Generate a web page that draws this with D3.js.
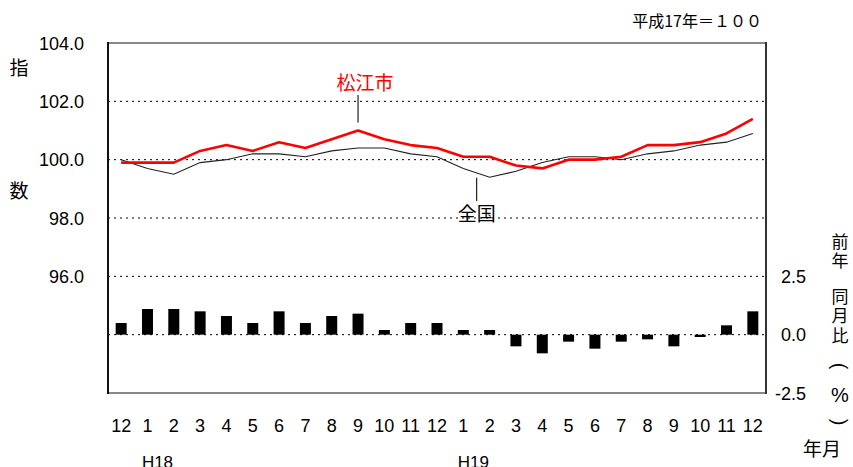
<!DOCTYPE html>
<html>
<head>
<meta charset="utf-8">
<script src="https://cdn.jsdelivr.net/npm/d3@7"></script>
<style>
  body { margin: 0; background: #fff; }
  text { font-family: "Liberation Sans", Arial, sans-serif; fill: #000; }
  .jp { font-family: "Noto Sans CJK JP", sans-serif; }
</style>
</head>
<body>
<div id="chart"></div>
<script>
// Chart data
var months = ["12", "1", "2", "3", "4", "5", "6", "7", "8", "9", "10", "11", "12",
              "1", "2", "3", "4", "5", "6", "7", "8", "9", "10", "11", "12"];
var matsue = [99.9, 99.9, 99.9, 100.3, 100.5, 100.3, 100.6, 100.4, 100.7, 101.0, 100.7, 100.5, 100.4,
              100.1, 100.1, 99.8, 99.7, 100.0, 100.0, 100.1, 100.5, 100.5, 100.6, 100.9, 101.4];
var zenkoku = [100.0, 99.7, 99.5, 99.9, 100.0, 100.2, 100.2, 100.1, 100.3, 100.4, 100.4, 100.2, 100.1,
               99.7, 99.4, 99.6, 99.9, 100.1, 100.1, 100.0, 100.2, 100.3, 100.5, 100.6, 100.9];
var yoy = [0.5, 1.1, 1.1, 1.0, 0.8, 0.5, 1.0, 0.5, 0.8, 0.9, 0.2, 0.5, 0.5,
           0.2, 0.2, -0.5, -0.8, -0.3, -0.6, -0.3, -0.2, -0.5, -0.1, 0.4, 1.0];
var leftTicks = [104, 102, 100, 98, 96];
var rightTicks = [2.5, 0, -2.5];
var eraLabels = [{ text: "H18", at: 1 }, { text: "H19", at: 13 }];

var svgWidth = 853;
var svgHeight = 467;

// Plot frame
var margin = { top: 43, right: 87, bottom: 74, left: 108 };
var chartWidth = svgWidth - margin.left - margin.right;
var chartHeight = svgHeight - margin.top - margin.bottom;

var svg = d3.select("#chart")
  .append("svg")
  .attr("width", svgWidth)
  .attr("height", svgHeight);

var chartGroup = svg.append("g")
  .attr("transform", `translate(${margin.left}, ${margin.top})`);

var idx = d3.range(months.length);

var xScale = d3.scaleBand()
  .domain(idx)
  .range([0, chartWidth]);

var yLeft = d3.scaleLinear()
  .domain([92, 104])
  .range([chartHeight, 0]);

var yRight = d3.scaleLinear()
  .domain([-2.5, 12.5])
  .range([chartHeight, 0]);

var cx = i => xScale(i) + xScale.bandwidth() / 2;

// Dotted grid lines
var gridYs = leftTicks.slice(1).map(v => yLeft(v)).concat([yRight(0)]);
chartGroup.selectAll(".grid")
  .data(gridYs)
  .enter()
  .append("line")
  .attr("x1", 0)
  .attr("x2", chartWidth)
  .attr("y1", d => d)
  .attr("y2", d => d)
  .attr("stroke", "#000")
  .attr("stroke-width", 1)
  .attr("stroke-dasharray", "2,4");

// Bars (year-on-year %)
chartGroup.selectAll(".bar")
  .data(yoy)
  .enter()
  .append("rect")
  .attr("x", (d, i) => cx(i) - 5.5)
  .attr("width", 11)
  .attr("y", d => yRight(Math.max(0, d)))
  .attr("height", d => Math.abs(yRight(d) - yRight(0)))
  .attr("fill", "#000");

// Lines
var line = d3.line()
  .x((d, i) => cx(i))
  .y(d => yLeft(d));

chartGroup.append("path")
  .datum(zenkoku)
  .attr("d", line)
  .attr("fill", "none")
  .attr("stroke", "#222")
  .attr("stroke-width", 1.1);

chartGroup.append("path")
  .datum(matsue)
  .attr("d", line)
  .attr("fill", "none")
  .attr("stroke", "#ff0000")
  .attr("stroke-width", 2.6)
  .attr("stroke-linejoin", "round");

// Frame
chartGroup.append("line").attr("x1", 0).attr("x2", chartWidth).attr("y1", 0).attr("y2", 0)
  .attr("stroke", "#888").attr("stroke-width", 2);
chartGroup.append("line").attr("x1", 0).attr("x2", chartWidth).attr("y1", chartHeight).attr("y2", chartHeight)
  .attr("stroke", "#888").attr("stroke-width", 2);
chartGroup.append("line").attr("x1", 0).attr("x2", 0).attr("y1", -1).attr("y2", chartHeight + 1)
  .attr("stroke", "#111").attr("stroke-width", 2);
chartGroup.append("line").attr("x1", chartWidth).attr("x2", chartWidth).attr("y1", -1).attr("y2", chartHeight + 1)
  .attr("stroke", "#333").attr("stroke-width", 2);

// Left axis labels
chartGroup.selectAll(".ltick")
  .data(leftTicks)
  .enter()
  .append("text")
  .attr("x", -24)
  .attr("y", d => yLeft(d) + 6.5)
  .attr("text-anchor", "end")
  .attr("font-size", 18)
  .text(d => d.toFixed(1));

// Right axis labels
chartGroup.selectAll(".rtick")
  .data(rightTicks)
  .enter()
  .append("text")
  .attr("x", chartWidth + 40)
  .attr("y", d => yRight(d) + 6.5)
  .attr("text-anchor", "end")
  .attr("font-size", 18)
  .text(d => d.toFixed(1));

// Month labels
chartGroup.selectAll(".month")
  .data(months)
  .enter()
  .append("text")
  .attr("x", (d, i) => cx(i))
  .attr("y", chartHeight + 39)
  .attr("text-anchor", "middle")
  .attr("font-size", 18)
  .text(d => d);

chartGroup.selectAll(".era")
  .data(eraLabels)
  .enter()
  .append("text")
  .attr("x", d => cx(d.at) + 10)
  .attr("y", chartHeight + 75)
  .attr("text-anchor", "middle")
  .attr("font-size", 17)
  .text(d => d.text);

// Series labels with leader lines
chartGroup.append("text")
  .attr("class", "jp")
  .attr("x", cx(9) + 7)
  .attr("y", 47)
  .attr("text-anchor", "middle")
  .attr("font-size", 19)
  .style("fill", "#ff0000")
  .text("松江市");
chartGroup.append("line")
  .attr("x1", cx(9)).attr("x2", cx(9))
  .attr("y1", 52).attr("y2", yLeft(101.0) - 8)
  .attr("stroke", "#222").attr("stroke-width", 1.2);

chartGroup.append("text")
  .attr("class", "jp")
  .attr("x", cx(14) - 13)
  .attr("y", 178)
  .attr("text-anchor", "middle")
  .attr("font-size", 19)
  .text("全国");
chartGroup.append("line")
  .attr("x1", cx(14) - 13).attr("x2", cx(14) - 13)
  .attr("y1", yLeft(99.45) + 2).attr("y2", 158)
  .attr("stroke", "#222").attr("stroke-width", 1.2);

// Axis titles
svg.append("text").attr("class", "jp").attr("x", 19).attr("y", 75)
  .attr("text-anchor", "middle").attr("font-size", 19).text("指");
svg.append("text").attr("class", "jp").attr("x", 19).attr("y", 198)
  .attr("text-anchor", "middle").attr("font-size", 19).text("数");

svg.append("text").attr("class", "jp").attr("x", 762).attr("y", 27)
  .attr("text-anchor", "end").attr("font-size", 16).text("平成17年＝１００");

// Vertical right-hand title
var vChars = [
  { t: "前", y: 248 }, { t: "年", y: 267 }, { t: "同", y: 303 },
  { t: "月", y: 322 }, { t: "比", y: 342 }
];
svg.selectAll(".vlab")
  .data(vChars)
  .enter()
  .append("text")
  .attr("class", "jp")
  .attr("x", 840)
  .attr("y", d => d.y)
  .attr("text-anchor", "middle")
  .attr("font-size", 17)
  .text(d => d.t);

// parentheses turned for vertical writing
var vParens = [{ t: "(", y: 366 }, { t: ")", y: 422 }];
svg.selectAll(".vparen")
  .data(vParens)
  .enter()
  .append("text")
  .attr("transform", d => `translate(840, ${d.y}) rotate(90)`)
  .attr("text-anchor", "middle")
  .attr("dy", "0.35em")
  .attr("font-size", 20)
  .text(d => d.t);

svg.append("text").attr("x", 840).attr("y", 402)
  .attr("text-anchor", "middle").attr("font-size", 20).text("%");

svg.append("text").attr("class", "jp").attr("x", 822).attr("y", 456)
  .attr("text-anchor", "middle").attr("font-size", 19).text("年月");
</script>
</body>
</html>
